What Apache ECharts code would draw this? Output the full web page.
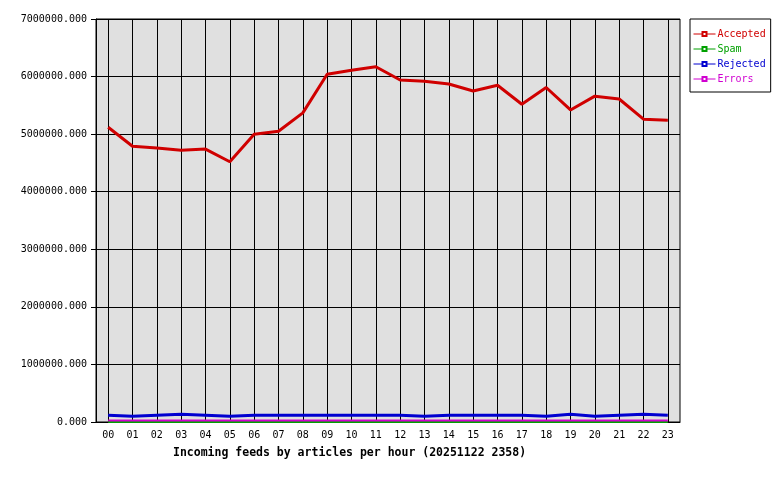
<!DOCTYPE html>
<html>
<head>
<meta charset="utf-8">
<script src="https://cdn.jsdelivr.net/npm/echarts@6/dist/echarts.min.js"></script>
<style>
  html, body { margin: 0; padding: 0; background: #fff; }
  #chart { width: 780px; height: 480px; }
</style>
</head>
<body>
<div id="chart"></div>
<script>
// hours of the day
const hours = ['00', '01', '02', '03', '04', '05', '06', '07', '08', '09', '10', '11',
  '12', '13', '14', '15', '16', '17', '18', '19', '20', '21', '22', '23']

// articles per hour
const accepted = [5120000, 4790000, 4760000, 4720000, 4740000, 4520000, 5000000, 5050000,
  5370000, 6040000, 6110000, 6170000, 5940000, 5920000, 5870000, 5750000, 5850000, 5520000,
  5810000, 5420000, 5660000, 5610000, 5260000, 5240000]
const spam = [0, 0, 0, 0, 0, 0, 0, 0, 0, 0, 0, 0, 0, 0, 0, 0, 0, 0, 0, 0, 0, 0, 0, 0]
const rejected = [118000, 100000, 118000, 135000, 118000, 100000, 118000, 118000, 118000,
  118000, 118000, 118000, 118000, 100000, 118000, 118000, 118000, 118000, 100000, 135000,
  100000, 118000, 135000, 118000]
const errors = [25000, 25000, 25000, 25000, 25000, 25000, 25000, 25000, 25000, 25000, 25000,
  25000, 25000, 25000, 25000, 25000, 25000, 25000, 25000, 25000, 25000, 25000, 25000, 25000]

const mono = 'DejaVu Sans Mono'

const chart = echarts.init(document.getElementById('chart'))

const line = (name, data, color, width, z) => ({
  name,
  type: 'line',
  data,
  symbol: 'emptyRect',
  symbolSize: 4,
  showSymbol: false,
  animation: false,
  z,
  itemStyle: { color },
  lineStyle: { color, width }
})

chart.setOption({
  animation: false,
  title: {
    text: 'Incoming feeds by articles per hour (20251122 2358)',
    left: 168,
    top: 442,
    textStyle: { fontFamily: mono, fontSize: 11.5, fontWeight: 'bold', color: '#000' }
  },
  legend: {
    orient: 'vertical',
    left: 690,
    top: 19,
    padding: [9, 5, 7, 3],
    itemGap: 3,
    itemWidth: 22,
    itemHeight: 5,
    backgroundColor: '#fff',
    borderColor: '#000',
    borderWidth: 1,
    lineStyle: { width: 1 },
    textStyle: { fontFamily: mono, fontSize: 10, lineHeight: 12, padding: [0, 0, 0, -3] },
    data: [
      { name: 'Accepted', textStyle: { color: '#d00000' } },
      { name: 'Spam', textStyle: { color: '#00a000' } },
      { name: 'Rejected', textStyle: { color: '#0000d0' } },
      { name: 'Errors', textStyle: { color: '#d000d0' } }
    ]
  },
  grid: {
    left: 96,
    right: 100,
    top: 19,
    bottom: 58,
    show: true,
    backgroundColor: '#e0e0e0',
    borderColor: '#000',
    borderWidth: 1
  },
  xAxis: {
    type: 'category',
    data: hours,
    boundaryGap: true,
    z: 1,
    axisLine: { lineStyle: { color: '#000' } },
    axisTick: { alignWithLabel: true, length: 4, lineStyle: { color: '#000' } },
    splitLine: { show: true, alignWithLabel: true, lineStyle: { color: '#000', width: 1 } },
    axisLabel: { fontFamily: mono, fontSize: 10, color: '#000', margin: 8, interval: 0 }
  },
  yAxis: {
    type: 'value',
    min: 0,
    max: 7000000,
    interval: 1000000,
    z: 1,
    axisLine: { show: true, lineStyle: { color: '#000' } },
    axisTick: { show: true, length: 5, lineStyle: { color: '#000' } },
    splitLine: { show: true, lineStyle: { color: '#000', width: 1 } },
    axisLabel: {
      fontFamily: mono,
      fontSize: 10,
      color: '#000',
      margin: 9,
      formatter: v => v.toFixed(3)
    }
  },
  series: [
    line('Accepted', accepted, '#d00000', 3, 4),
    line('Spam', spam, '#00a000', 2, 2),
    line('Rejected', rejected, '#0000d0', 3, 4),
    line('Errors', errors, '#d000d0', 2, 5)
  ]
})
</script>
</body>
</html>
